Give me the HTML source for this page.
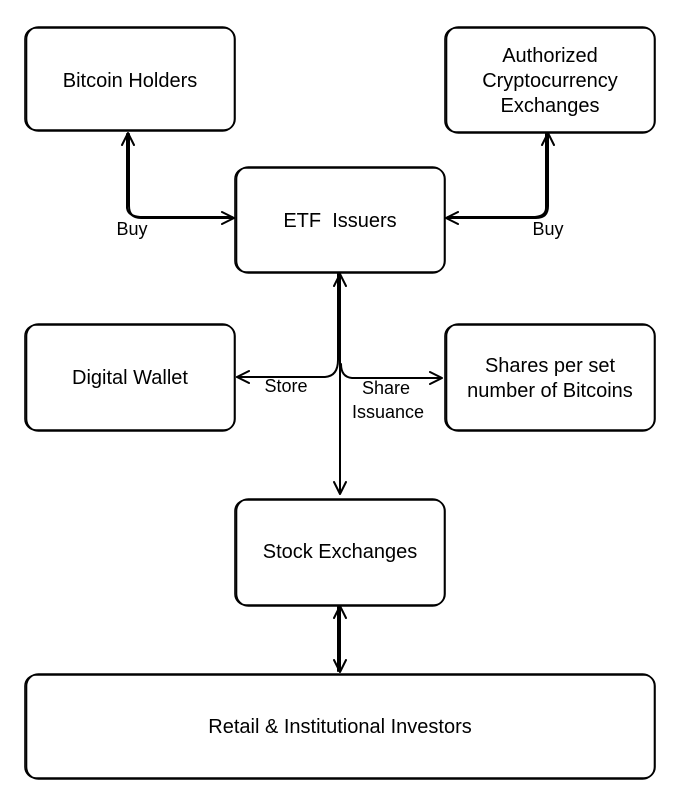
<!DOCTYPE html>
<html><head><meta charset="utf-8"><style>
body{margin:0;background:#fff;}
svg{display:block;}
text{font-family:"Liberation Sans",sans-serif;font-size:20px;fill:#000;}
.l{font-size:18px;}
</style></head><body>
<svg width="691" height="803" viewBox="0 0 691 803" fill="none" stroke="#000" stroke-width="1.6" stroke-linecap="round" stroke-linejoin="round">
<g>
<rect x="25" y="28" width="210" height="102" rx="11"/>
<rect x="26.5" y="27" width="208" height="104" rx="12"/>
<rect x="445" y="28" width="210" height="104" rx="11"/>
<rect x="446.5" y="27" width="208" height="106" rx="12"/>
<rect x="235" y="168" width="210" height="104" rx="11"/>
<rect x="236.5" y="167" width="208" height="106" rx="12"/>
<rect x="25" y="325" width="210" height="105" rx="11"/>
<rect x="26.5" y="324" width="208" height="107" rx="12"/>
<rect x="445" y="325" width="210" height="105" rx="11"/>
<rect x="446.5" y="324" width="208" height="107" rx="12"/>
<rect x="235" y="500" width="210" height="105" rx="11"/>
<rect x="236.5" y="499" width="208" height="107" rx="12"/>
<rect x="25" y="675" width="630" height="103" rx="11"/>
<rect x="26.5" y="674" width="628" height="105" rx="12"/>
</g>
<g stroke-width="2">
<path d="M129 134 V206 Q129 218 141 218 H233"/>
<path d="M127 134 V208 Q128 216 140 217 H232"/>
<path d="M122 145 L128 133 L134 145 M222 212 L234 218 L222 224"/>
<path d="M548 134 V206 Q548 218 536 218 H447"/>
<path d="M546 134 V208 Q546 216 535 217 H448"/>
<path d="M542 145 L548 133 L554 145 M458 212 L446 218 L458 224"/>
<path d="M340 274 V493 M338 274 V360 Q338 376 325 377 H237 M341 364 Q341 377 352 378 H441"/>
<path d="M334 286 L340 274 L346 286 M334 482 L340 494 L346 482"/>
<path d="M249 371 L237 377 L249 383 M430 372 L442 378 L430 384"/>
<path d="M340 607 V671 M338 607 V671"/>
<path d="M334 618 L340 606 L346 618 M334 660 L340 672 L346 660"/>
</g>
<g stroke="none" text-anchor="middle">
<text x="130" y="87">Bitcoin Holders</text>
<text x="550" y="62">Authorized</text>
<text x="550" y="87">Cryptocurrency</text>
<text x="550" y="112">Exchanges</text>
<text x="340" y="227" xml:space="preserve">ETF  Issuers</text>
<text x="130" y="384">Digital Wallet</text>
<text x="550" y="372">Shares per set</text>
<text x="550" y="397">number of Bitcoins</text>
<text x="340" y="558">Stock Exchanges</text>
<text x="340" y="733">Retail &amp; Institutional Investors</text>
<text class="l" x="132" y="235">Buy</text>
<text class="l" x="548" y="235">Buy</text>
<text class="l" x="286" y="392">Store</text>
<text class="l" x="386" y="394">Share</text>
<text class="l" x="388" y="418">Issuance</text>
</g>
</svg>
</body></html>
